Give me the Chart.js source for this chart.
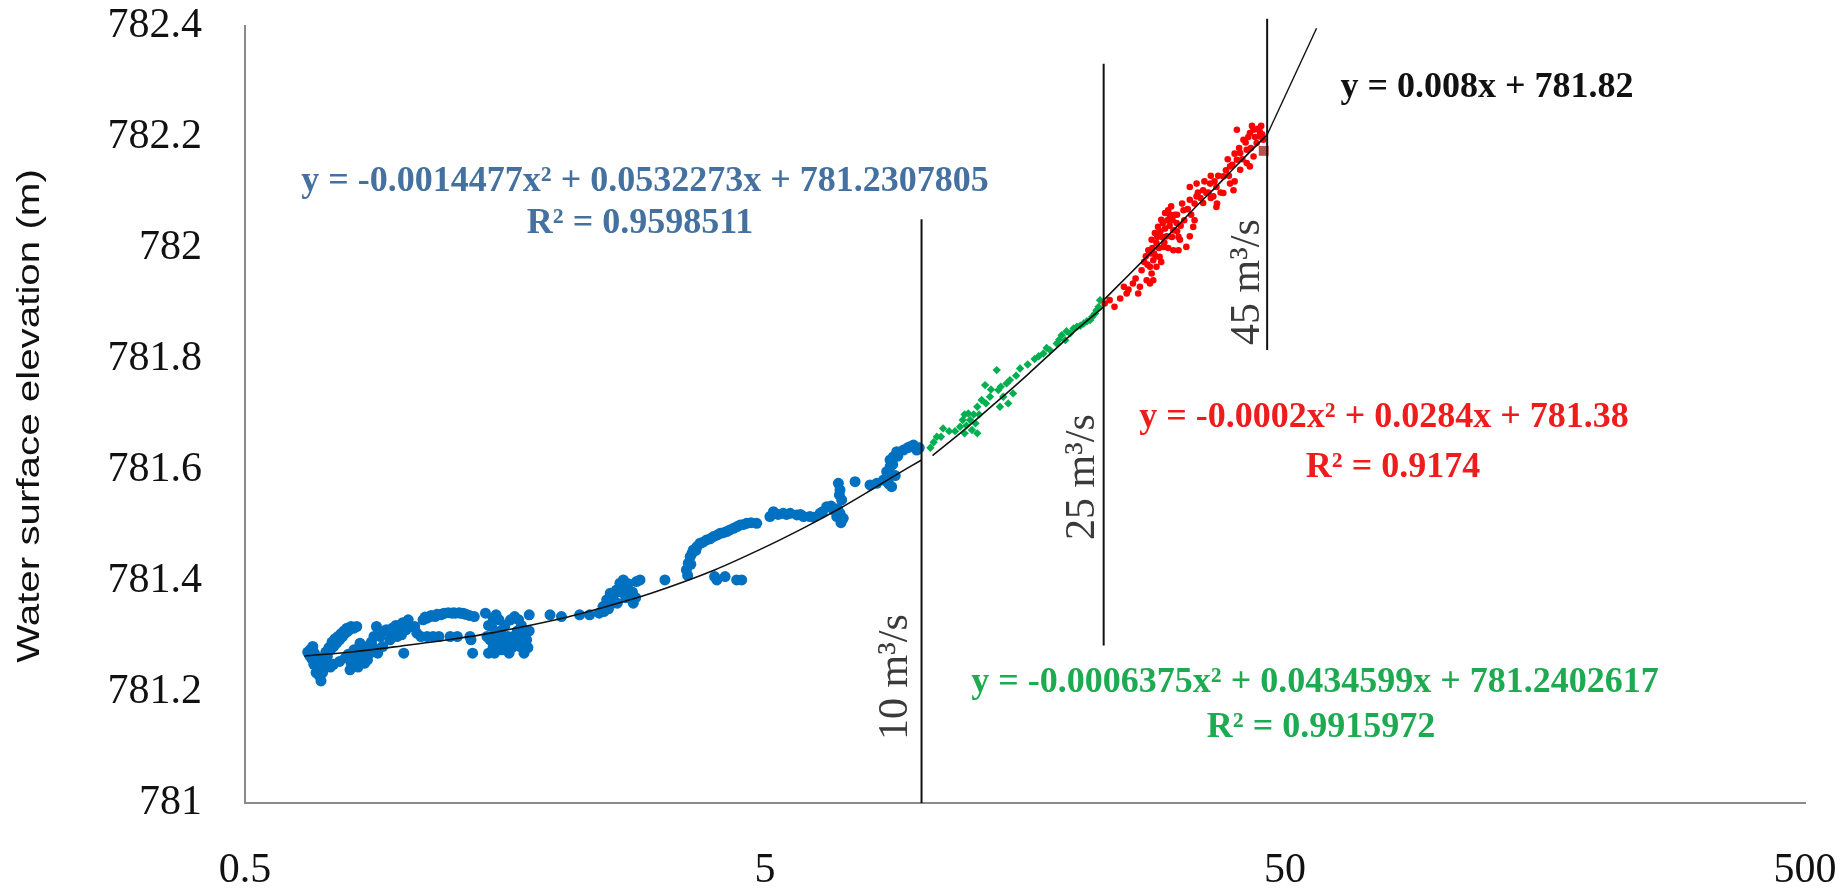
<!DOCTYPE html>
<html>
<head>
<meta charset="utf-8">
<script src="https://cdn.jsdelivr.net/npm/chart.js@4.4.1/dist/chart.umd.min.js"></script>
<style>
  html, body { margin: 0; padding: 0; background: #fff; }
  #wrap { width: 1847px; height: 894px; }
</style>
</head>
<body>
<div id="wrap"><canvas id="chart" width="1847" height="894"></canvas></div>
<script>
// discharge (m3/s) vs water surface elevation (m)
const xTicks = [0.5, 5, 50, 500];

const blueX = [0.66, 0.667, 0.675, 0.68, 0.69, 0.69, 0.697, 0.70, 0.705, 0.71, 0.72, 0.73, 0.74, 0.75, 0.76, 0.77, 0.78, 0.79,
  0.796, 0.80, 0.81, 0.82, 0.832, 0.845, 0.85, 0.86, 0.87, 0.88, 0.895, 0.90, 0.92, 0.935, 0.95, 0.965, 0.98, 1.0, 1.01, 1.02,
  1.04, 1.06, 1.07, 1.09, 1.10, 1.12, 1.134, 1.15, 1.16, 1.19, 1.21, 1.24, 1.25, 1.27, 1.296, 1.31, 1.33, 1.354, 1.36, 1.37,
  1.38, 1.45, 1.47, 1.48, 1.49, 1.50, 1.50, 1.52, 1.52, 1.54, 1.55, 1.56, 1.59, 1.60, 1.62, 1.63, 1.65, 1.66, 1.69, 1.70, 1.70,
  1.72, 1.73, 1.74, 1.76, 1.93, 2.03, 2.2, 2.3, 2.4, 2.44, 2.48, 2.52, 2.55, 2.59, 2.63, 2.67, 2.71, 2.75, 2.79, 2.83, 2.875,
  3.21, 3.53, 3.56, 3.59, 3.64, 3.70, 3.75, 3.86, 3.98, 4.10, 4.22, 4.35, 4.48, 4.61, 4.82, 4.0, 4.04, 4.19, 4.41, 4.51,
  5.11, 5.19, 5.42, 5.59, 5.76, 5.93, 6.10, 6.38, 6.57, 6.77, 6.87, 6.97, 7.07, 6.92, 6.97, 7.02, 7.45, 7.96, 8.20, 8.45,
  8.57, 8.70, 8.76, 8.83, 8.96, 9.23, 9.50, 9.79, 8.70,
  0.665, 0.672, 0.678, 0.685, 0.692, 0.70, 0.707, 0.715, 0.725, 0.735, 0.745, 0.755, 0.765, 0.775, 0.785, 0.80, 0.81, 0.72,
  0.73, 0.74, 0.76, 0.78, 0.79, 0.805, 0.815, 0.825, 0.835, 0.84, 0.86, 0.875, 0.885, 0.91, 0.925, 0.945, 0.96, 0.975, 0.99,
  1.005, 1.03, 1.11, 1.14, 1.17, 1.2, 1.23, 1.26, 1.29, 1.32, 1.35, 1.12, 1.18, 1.28, 1.46, 1.47, 1.51, 1.53, 1.57, 1.58,
  1.61, 1.64, 1.67, 1.68, 1.71, 1.75, 1.76, 2.45, 2.5, 2.56, 2.6, 2.65, 2.7, 2.73, 2.78, 2.82, 3.55, 3.6, 3.62, 3.68, 3.8,
  3.92, 4.05, 4.16, 4.28, 4.42, 4.55, 4.7, 5.3, 5.5, 5.85, 6.2, 6.45, 6.7, 6.9, 7.0, 6.95, 8.6, 8.8, 9.0, 9.4, 9.65, 9.9,
  8.9, 8.65];
const blueY = [781.272, 781.276, 781.282, 781.27, 781.262, 781.24, 781.228, 781.22, 781.235, 781.252, 781.264, 781.276, 781.282,
  781.288, 781.294, 781.30, 781.306, 781.31, 781.24, 781.252, 781.276, 781.318, 781.288, 781.282, 781.252, 781.258, 781.27,
  781.282, 781.318, 781.27, 781.282, 781.312, 781.294, 781.306, 781.30, 781.303, 781.27, 781.312, 781.318, 781.318, 781.306,
  781.30, 781.33, 781.333, 781.336, 781.30, 781.336, 781.339, 781.342, 781.30, 781.342, 781.342, 781.342, 781.342, 781.34,
  781.30, 781.294, 781.27, 781.336, 781.342, 781.27, 781.294, 781.318, 781.333, 781.28, 781.339, 781.30, 781.33, 781.31,
  781.276, 781.288, 781.30, 781.33, 781.28, 781.336, 781.29, 781.282, 781.30, 781.32, 781.27, 781.31, 781.294, 781.339,
  781.339, 781.336, 781.339, 781.339, 781.342, 781.354, 781.366, 781.378, 781.36, 781.384, 781.396, 781.402, 781.39, 781.372,
  781.36, 781.399, 781.402, 781.402, 781.42, 781.432, 781.444, 781.456, 781.462, 781.468, 781.474, 781.48, 781.486, 781.489,
  781.495, 781.501, 781.504, 781.504, 781.408, 781.402, 781.408, 781.402, 781.402, 781.516, 781.525, 781.522, 781.522,
  781.519, 781.516, 781.516, 781.522, 781.534, 781.528, 781.516, 781.522, 781.513, 781.576, 781.564, 781.546, 781.579,
  781.573, 781.576, 781.582, 781.597, 781.606, 781.570, 781.624, 781.633, 781.636, 781.642, 781.636, 781.618,
  781.266, 781.26, 781.25, 781.235, 781.232, 781.245, 781.26, 781.272, 781.28, 781.29, 781.296, 781.30, 781.305, 781.31,
  781.315, 781.318, 781.315, 781.25, 781.245, 781.25, 781.255, 781.262, 781.268, 781.262, 781.25, 781.245, 781.26, 781.27,
  781.28, 781.29, 781.30, 781.30, 781.31, 781.31, 781.315, 781.32, 781.32, 781.325, 781.33, 781.335, 781.338, 781.34,
  781.341, 781.343, 781.343, 781.343, 781.341, 781.338, 781.30, 781.30, 781.30, 781.30, 781.32, 781.27, 781.285, 781.30,
  781.32, 781.27, 781.30, 781.31, 781.33, 781.285, 781.28, 781.31, 781.345, 781.35, 781.375, 781.36, 781.38, 781.37, 781.395,
  781.38, 781.37, 781.41, 781.43, 781.45, 781.455, 781.47, 781.476, 781.483, 781.487, 781.492, 781.498, 781.502, 781.505,
  781.52, 781.52, 781.52, 781.515, 781.525, 781.535, 781.53, 781.505, 781.555, 781.58, 781.61, 781.625, 781.64, 781.645,
  781.64, 781.59, 781.575];

const greenX = [10.4, 10.55, 10.7, 11.0, 11.86, 12.0, 12.1, 12.2, 12.3, 12.4, 12.5, 12.6, 12.7, 12.8, 12.8, 13.05, 13.25, 13.3,
  13.54, 13.95, 14.05, 14.15, 14.36, 14.57, 14.68, 14.79, 15.0, 15.47, 16.5, 17.15, 17.66, 18.2, 18.6, 18.9, 19.0, 19.3,
  19.9, 20.2, 20.5, 21.09, 21.3, 21.56, 21.9, 22.04,
  10.9, 11.3, 11.6, 12.1, 12.9, 13.6, 14.2, 15.2, 16.0, 16.8, 17.4, 18.4, 19.6, 20.8, 21.7];
const greenY = [781.64, 781.65, 781.66, 781.675, 781.678, 781.69, 781.666, 781.68, 781.702, 781.69, 781.672, 781.70, 781.684,
  781.666, 781.714, 781.726, 781.753, 781.72, 781.732, 781.78, 781.744, 781.714, 781.732, 781.756, 781.72, 781.762, 781.738,
  781.783, 781.80, 781.81, 781.816, 781.828, 781.843, 781.834, 781.85, 781.846, 781.858, 781.86, 781.864, 781.870, 781.876,
  781.882, 781.894, 781.906,
  781.66, 781.67, 781.67, 781.70, 781.70, 781.745, 781.75, 781.77, 781.79, 781.805, 781.82, 781.835, 781.855, 781.868,
  781.888];

const redX = [22.5, 23.0, 23.5, 24.1, 24.8, 25.5, 26.1, 27.1, 27.5, 27.3, 27.7, 28.1, 28.5, 28.9, 29.4, 29.8, 30.05, 27.9, 28.3,
  28.7, 29.2, 29.6, 30.5, 30.95, 28.3, 27.5, 27.7, 27.9, 30.5, 31.2, 31.4, 32.3, 32.8, 33.3, 31.9, 32.8, 33.8, 34.8, 35.3,
  36.4, 36.9, 35.9, 32.8, 33.8, 34.8, 36.9, 38.05, 39.8, 39.2, 38.05, 39.2, 40.4, 41.0, 42.2, 41.6, 40.4, 42.8, 43.5, 44.7,
  44.1, 44.7, 45.4, 42.2, 42.8, 43.5, 41.0, 28.0, 28.6, 29.0, 29.4, 30.0, 30.3, 28.9, 29.8, 31.0, 30.2,
  26.5, 26.8, 27.0, 27.2, 27.6, 27.8, 28.2, 28.4, 28.8, 29.1, 29.3, 29.7, 30.1, 30.4, 30.7, 31.0, 31.5, 31.7, 32.0, 32.5,
  33.0, 33.5, 34.0, 34.4, 35.0, 35.6, 36.0, 36.6, 37.2, 37.6, 38.5, 39.0, 39.6, 40.0, 40.8, 41.4, 42.0, 42.5, 43.0, 43.8,
  44.3, 45.0, 45.2, 43.2, 40.0, 37.0, 33.5, 31.2, 36.0, 38.8, 25.0, 25.8, 26.3, 24.5];
const redY = [781.90, 781.906, 781.894, 781.909, 781.918, 781.936, 781.918, 781.942, 781.936, 781.996, 782.015, 782.027,
  782.038, 782.051, 782.063, 782.068, 782.057, 781.978, 781.966, 781.984, 782.002, 782.021, 782.032, 782.045, 782.009,
  781.966, 781.954, 781.942, 781.996, 781.996, 782.015, 782.002, 782.021, 782.038, 782.068, 782.087, 782.093, 782.081,
  782.099, 782.093, 782.110, 782.116, 782.110, 782.116, 782.104, 782.074, 782.099, 782.104, 782.116, 782.129, 782.147,
  782.159, 782.171, 782.177, 782.195, 782.213, 782.207, 782.213, 782.21, 782.189, 782.201, 782.195, 782.153, 782.147,
  782.165, 782.141, 781.99, 782.00, 782.02, 782.035, 782.04, 782.02, 781.975, 782.0, 782.06, 782.075,
  781.96, 781.975, 781.985, 781.97, 781.99, 782.0, 781.985, 782.02, 782.03, 782.045, 782.01, 782.05, 782.06, 782.05, 782.06,
  782.03, 782.04, 782.08, 782.05, 782.07, 782.06, 782.08, 782.1, 782.09, 782.12, 782.1, 782.09, 782.12, 782.13, 782.1,
  782.14, 782.13, 782.15, 782.17, 782.18, 782.16, 782.19, 782.2, 782.18, 782.2, 782.215, 782.22, 782.205, 782.22, 782.12,
  782.08, 782.05, 782.02, 782.13, 782.16, 781.925, 781.945, 781.93, 781.93];

const endX = [45.5];
const endY = [782.175];

// fitted curves as drawn
const trendBlueX = [0.65, 0.8, 1, 1.25, 1.5, 2, 2.5, 3, 4, 5, 6, 7, 8, 9, 10];
const trendBlueY = [781.265, 781.272, 781.283, 781.295, 781.307, 781.331, 781.355, 781.377, 781.42, 781.461, 781.498,
  781.532, 781.564, 781.593, 781.618];
const trendGreenX = [10.5, 12, 14, 16, 18, 20, 22.4];
const trendGreenY = [781.626, 781.670, 781.724, 781.772, 781.816, 781.855, 781.894];
const trendRedX = [22.4, 25, 28, 31, 34, 37, 40, 43, 46.2];
const trendRedY = [781.906, 781.951, 781.997, 782.039, 782.078, 782.112, 782.145, 782.175, 782.204];
const trendLinX = [46.2, 57.5];
const trendLinY = [782.204, 782.396];

// discharge thresholds
const cutX = [10, 22.4, 46.2];
const cutLow = [781, 781.284, 781.816];
const cutHigh = [782.052, 782.332, 782.413];

const pts = (xs, ys) => xs.map((x, i) => ({ x: x, y: ys[i] }));

const serif = '"Liberation Serif", "Times New Roman", serif';

const lineSet = (xs, ys, width) => ({
  data: pts(xs, ys),
  showLine: true,
  borderColor: '#111111',
  borderWidth: width,
  pointRadius: 0,
  tension: 0.3,
  clip: false,
  order: 1
});

const datasets = [];
cutX.forEach((x, i) => {
  const d = lineSet([x, x], [cutLow[i], cutHigh[i]], 2);
  d.tension = 0;
  d.order = 0;
  datasets.push(d);
});
datasets.push(lineSet(trendBlueX, trendBlueY, 1.6));
datasets.push(lineSet(trendGreenX, trendGreenY, 1.6));
datasets.push(lineSet(trendRedX, trendRedY, 1.6));
datasets.push(Object.assign(lineSet(trendLinX, trendLinY, 1.4), { tension: 0 }));

datasets.push({
  data: pts(endX, endY),
  pointStyle: 'rect',
  pointRadius: 7,
  backgroundColor: 'rgba(176, 50, 45, 0.85)',
  borderWidth: 0,
  order: 2
});
datasets.push({
  data: pts(redX, redY),
  pointStyle: 'circle',
  pointRadius: 3.3,
  backgroundColor: '#FF0000',
  borderColor: '#FF0000',
  borderWidth: 0,
  order: 3
});
datasets.push({
  data: pts(greenX, greenY),
  pointStyle: 'rectRot',
  pointRadius: 4.2,
  backgroundColor: '#00B050',
  borderColor: '#00B050',
  borderWidth: 0,
  order: 4
});
datasets.push({
  data: pts(blueX, blueY),
  pointStyle: 'circle',
  pointRadius: 5.5,
  backgroundColor: '#0070C0',
  borderColor: '#0070C0',
  borderWidth: 0,
  order: 5
});

const notes = {
  id: 'notes',
  afterDraw(chart) {
    const ctx = chart.ctx;
    ctx.save();
    ctx.textAlign = 'center';
    ctx.textBaseline = 'middle';

    // y axis title, stretched along its length like the original
    ctx.save();
    ctx.translate(30, 416);
    ctx.rotate(-Math.PI / 2);
    ctx.scale(1.26, 1);
    ctx.font = '32px "Liberation Sans", Arial, sans-serif';
    ctx.fillStyle = '#111';
    ctx.fillText('Water surface elevation (m)', 0, 0);
    ctx.restore();

    const eq = (txt, x, y, color) => {
      ctx.font = 'bold 36px ' + serif;
      ctx.fillStyle = color;
      ctx.fillText(txt, x, y);
    };
    eq('y = -0.0014477x² + 0.0532273x + 781.2307805', 645, 182, '#44719F');
    eq('R² = 0.9598511', 640, 224, '#44719F');
    eq('y = 0.008x + 781.82', 1487, 88, '#111111');
    eq('y = -0.0002x² + 0.0284x + 781.38', 1384, 418, '#EE1C1C');
    eq('R² = 0.9174', 1393, 468, '#EE1C1C');
    eq('y = -0.0006375x² + 0.0434599x + 781.2402617', 1315, 683, '#1DAA50');
    eq('R² = 0.9915972', 1321, 728, '#1DAA50');

    const vlab = (txt, x, y) => {
      ctx.save();
      ctx.translate(x, y);
      ctx.rotate(-Math.PI / 2);
      ctx.font = '42px ' + serif;
      ctx.fillStyle = '#3a3a3a';
      ctx.fillText(txt, 0, 0);
      ctx.restore();
    };
    vlab('10 m³/s', 896, 677);
    vlab('25 m³/s', 1083, 477);
    vlab('45 m³/s', 1248, 282);
    ctx.restore();
  }
};

new Chart(document.getElementById('chart'), {
  type: 'scatter',
  data: { datasets: datasets },
  options: {
    responsive: false,
    devicePixelRatio: 1,
    animation: false,
    events: [],
    layout: { autoPadding: false, padding: { left: 0, right: 42, top: 26, bottom: 0 } },
    plugins: { legend: { display: false }, tooltip: { enabled: false } },
    scales: {
      x: {
        type: 'logarithmic',
        min: 0.5,
        max: 500,
        grid: { display: false, drawTicks: true, tickLength: 43 },
        border: { display: true, color: '#8a8a8a', width: 2 },
        afterBuildTicks: (s) => { s.ticks = xTicks.map(v => ({ value: v })); },
        afterFit: (s) => { s.height = 91; },
        ticks: {
          autoSkip: false,
          maxRotation: 0,
          padding: 0,
          color: '#111',
          font: { family: serif, size: 42 },
          callback: (v) => String(v)
        }
      },
      y: {
        min: 781,
        max: 782.4,
        grid: { display: false, drawTicks: true, tickLength: 43 },
        border: { display: true, color: '#8a8a8a', width: 2 },
        afterFit: (s) => { s.width = 245; },
        ticks: {
          stepSize: 0.2,
          padding: 0,
          color: '#111',
          font: { family: serif, size: 42 },
          callback: (v) => String(Math.round(v * 10) / 10)
        }
      }
    }
  },
  plugins: [notes]
});
</script>
</body>
</html>
